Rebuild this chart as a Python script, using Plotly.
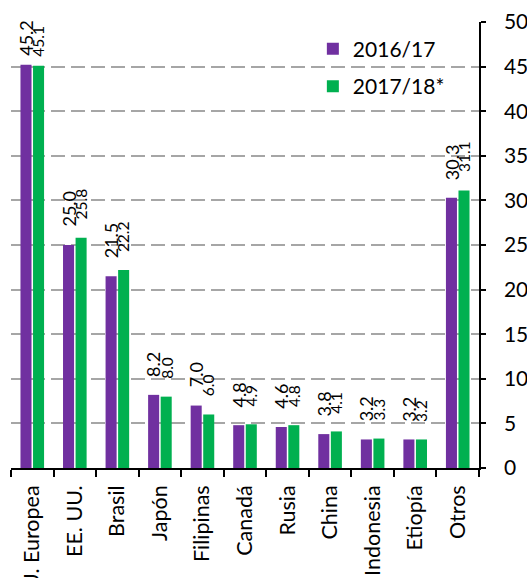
import plotly.graph_objects as go

categories = ["U. Europea", "EE. UU.", "Brasil", "Japón", "Filipinas", "Canadá",
              "Rusia", "China", "Indonesia", "Etiopía", "Otros"]
v2016 = [45.2, 25.0, 21.5, 8.2, 7.0, 4.8, 4.6, 3.8, 3.2, 3.2, 30.3]
v2017 = [45.1, 25.8, 22.2, 8.0, 6.0, 4.9, 4.8, 4.1, 3.3, 3.2, 31.1]
y_ticks = [0, 5, 10, 15, 20, 25, 30, 35, 40, 45, 50]

FONT = "Lato"
PURPLE = "#7030A0"
GREEN = "#00B050"
GRID = "#A6A6A6"

W, H = 527, 578
ML, MR, MT, MB = 11, 48, 22, 110
BARGAP, GROUPGAP = 0.41, 0.12

fig = go.Figure()
fig.add_trace(go.Bar(x=categories, y=v2016, name="2016/17", marker_color=PURPLE,
                     marker_line_width=0, legendgroup="a"))
fig.add_trace(go.Bar(x=categories, y=v2017, name="2017/18*", marker_color=GREEN,
                     marker_line_width=0, legendgroup="b"))

# value labels, rotated, centred over each bar
cat_w = (W - ML - MR) / len(categories)
slot = cat_w * (1 - BARGAP) / 2
annotations = []
for series, vals, size, sign in ((0, v2016, 18, -1), (1, v2017, 15.5, 1)):
    for c, v in zip(categories, vals):
        gap = 16 if v < 40 else 7
        annotations.append(dict(
            x=c, y=v, xref="x", yref="y", text=f"{v:.1f}", showarrow=False,
            textangle=-90, xanchor="center", yanchor="bottom",
            xshift=sign * slot / 2, yshift=gap,
            font=dict(family=FONT, size=size, color="black")))

fig.update_layout(
    width=W, height=H,
    margin=dict(l=ML, r=MR, t=MT, b=MB),
    paper_bgcolor="white", plot_bgcolor="white",
    barmode="group", bargap=BARGAP, bargroupgap=GROUPGAP,
    font=dict(family=FONT, size=21, color="black"),
    showlegend=True,
    legend=dict(x=0.645, y=0.985, xanchor="left", yanchor="top",
                font=dict(size=21), tracegroupgap=7, bgcolor="rgba(0,0,0,0)"),
    annotations=annotations,
    xaxis=dict(showline=True, linecolor="black", linewidth=1.5,
               ticks="outside", tickson="boundaries", ticklen=7, tickcolor="black",
               tickwidth=1.5, tickangle=-90, tickfont=dict(size=21.5),
               ticklabelstandoff=7, automargin=False),
    yaxis=dict(range=[0, 50], side="right", tickvals=y_ticks,
               showline=True, linecolor="black", linewidth=1.5,
               ticks="outside", ticklen=5, tickcolor="black", tickwidth=1.5,
               showgrid=True, gridcolor=GRID, griddash="14px,6px", gridwidth=1.7,
               zeroline=False, tickfont=dict(size=21), ticklabelstandoff=14,
               automargin=False),
    yaxis2=dict(range=[0, 50], side="right", overlaying="y", tickvals=y_ticks,
                showline=False, ticks="inside", ticklen=5, tickcolor="black",
                tickwidth=1.5, showticklabels=False, showgrid=False,
                zeroline=False, automargin=False),
)

fig.write_html("out.html", config={"displayModeBar": False},
               post_script="document.body.style.margin='0';document.body.style.overflow='hidden';")
